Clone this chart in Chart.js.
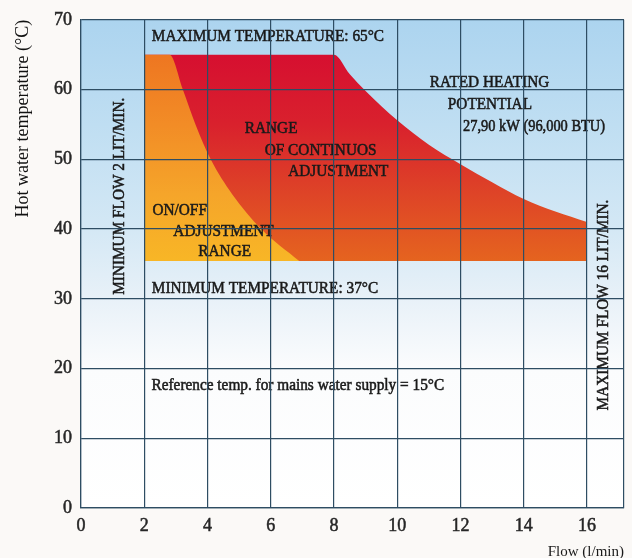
<!DOCTYPE html>
<html>
<head>
<meta charset="utf-8">
<script src="https://cdn.jsdelivr.net/npm/chart.js@4.4.1/dist/chart.umd.min.js"></script>
<style>
html,body{margin:0;padding:0;background:#fbf9f7;}
#wrap{width:632px;height:558px;}
</style>
</head>
<body>
<div id="wrap"><canvas id="c" width="632" height="558"></canvas></div>
<script>
// ---- data ----
const xTickValues = [0, 2, 4, 6, 8, 10, 12, 14, 16];
const xAxisMax = 17.17;
const yAxisMin = 0;
const yAxisMax = 70;
const yStep = 10;
const minRangeTemp = 35.4;               // bottom of the coloured ranges
const onOffFlow = [2, 2.8, 3.22, 3.62, 4.1, 4.78, 5.7, 6.9];
const onOffTemp = [65, 65, 60, 55, 50, 45, 40, 35.4];
const powerFlow = [2, 8, 8.5, 9, 10, 11, 12, 13, 14, 15, 16];
const powerTemp = [65, 65, 62.2, 59.8, 55.6, 52.1, 49.3, 46.7, 44.3, 42.5, 41.0];

// ---- text annotations (data coordinates) ----
const FONT = '"Liberation Serif", "Times New Roman", serif';
const notes = [
  {t: 'MAXIMUM TEMPERATURE: 65°C', x: 2.24, y: 67.6},
  {t: 'RATED HEATING', x: 11.03, y: 61.0},
  {t: 'POTENTIAL', x: 11.6, y: 57.9},
  {t: '27,90 kW (96,000 BTU)', x: 12.08, y: 54.7, s: 16},
  {t: 'RANGE', x: 5.18, y: 54.4},
  {t: 'OF CONTINUOS', x: 5.81, y: 51.2},
  {t: 'ADJUSTMENT', x: 6.55, y: 48.2},
  {t: 'ON/OFF', x: 2.26, y: 42.7},
  {t: 'ADJUSTMENT', x: 2.92, y: 39.6},
  {t: 'RANGE', x: 3.71, y: 36.8},
  {t: 'MINIMUM TEMPERATURE: 37°C', x: 2.24, y: 31.5},
  {t: 'Reference temp. for mains water supply = 15°C', x: 2.23, y: 17.6},
  {t: 'MINIMUM FLOW 2 LIT/MIN.', x: 1.22, y: 44.7, v: true},
  {t: 'MAXIMUM FLOW 16 LIT/MIN.', x: 16.52, y: 29.1, v: true}
];

const GRID = '#2e4d63';
const TEXT = '#1a1a1a';
const onOffStops = [[65, '#ee7621'], [55, '#f28c26'], [45, '#f5a52a'], [35.4, '#f8b626']];
const contStops = [[65, '#d60f30'], [55, '#d9212d'], [45, '#de4427'], [35.4, '#e5641f']];
const bgStops = [[70, '#acd4ef'], [55, '#bfdef2'], [40, '#d4e8f5'], [30, '#e8f1f8'], [20, '#fbfcfd'], [0, '#ffffff']];

function vGrad(chart, stops) {
  const {ctx, chartArea, scales} = chart;
  if (!chartArea) return stops[0][1];
  const y = scales.y;
  const y0 = y.getPixelForValue(stops[0][0]);
  const y1 = y.getPixelForValue(stops[stops.length - 1][0]);
  const g = ctx.createLinearGradient(0, y0, 0, y1);
  stops.forEach(([v, c]) => g.addColorStop(Math.min(1, Math.max(0, (y.getPixelForValue(v) - y0) / (y1 - y0))), c));
  return g;
}

const bgPlugin = {
  id: 'bgPlugin',
  beforeDatasetsDraw(chart) {
    const {ctx, chartArea: a} = chart;
    ctx.save();
    ctx.fillStyle = vGrad(chart, bgStops);
    ctx.fillRect(a.left, a.top, a.right - a.left, a.bottom - a.top);
    ctx.restore();
  }
};

const textPlugin = {
  id: 'textPlugin',
  afterDatasetsDraw(chart) {
    const {ctx, scales: {x, y}} = chart;
    notes.forEach(n => {
      ctx.save();
      ctx.translate(x.getPixelForValue(n.x), y.getPixelForValue(n.y));
      if (n.v) ctx.rotate(-Math.PI / 2);
      ctx.scale(0.9, 1);
      ctx.font = (n.s || 17) + 'px ' + FONT;
      ctx.fillStyle = TEXT;
      ctx.strokeStyle = TEXT;
      ctx.lineWidth = 0.55;
      ctx.textAlign = n.v ? 'center' : 'left';
      ctx.textBaseline = 'middle';
      ctx.fillText(n.t, 0, 0);
      ctx.strokeText(n.t, 0, 0);
      ctx.restore();
    });
  }
};

new Chart(document.getElementById('c'), {
  type: 'line',
  data: {
    datasets: [
      {
        label: 'ON/OFF adjustment range',
        data: onOffFlow.map((v, i) => ({x: v, y: onOffTemp[i]})),
        fill: {value: minRangeTemp},
        backgroundColor: c => vGrad(c.chart, onOffStops),
        borderWidth: 0,
        pointRadius: 0,
        cubicInterpolationMode: 'monotone'
      },
      {
        label: 'Range of continuous adjustment',
        data: powerFlow.map((v, i) => ({x: v, y: powerTemp[i]})),
        fill: {value: minRangeTemp},
        backgroundColor: c => vGrad(c.chart, contStops),
        borderWidth: 0,
        pointRadius: 0,
        cubicInterpolationMode: 'monotone'
      }
    ]
  },
  options: {
    responsive: false,
    animation: false,
    layout: {padding: {top: 18, right: 8, left: 0, bottom: 0}},
    plugins: {legend: {display: false}, tooltip: {enabled: false}},
    scales: {
      x: {
        type: 'linear',
        min: 0,
        max: xAxisMax,
        afterBuildTicks: s => { s.ticks = xTickValues.concat([xAxisMax]).map(v => ({value: v})); },
        afterFit: s => { s.height = 50; },
        ticks: {
          autoSkip: false,
          maxRotation: 0,
          callback: v => xTickValues.includes(v) ? String(v) : '',
          color: '#262626',
          textStrokeColor: '#262626',
          textStrokeWidth: 0.5,
          font: {family: FONT, size: 18},
          padding: 7,
          z: 2
        },
        grid: {color: GRID, lineWidth: 1.2, drawTicks: false, z: 1},
        border: {color: GRID, width: 1.2, z: 1},
        title: {display: true, text: 'Flow (l/min)', align: 'end', color: '#1a1a1a',
                font: {family: FONT, size: 15, lineHeight: 0.8}, padding: 0}
      },
      y: {
        min: yAxisMin,
        max: yAxisMax,
        afterFit: s => { s.width = 81; },
        ticks: {stepSize: yStep, color: '#262626', textStrokeColor: '#262626', textStrokeWidth: 0.5,
                font: {family: FONT, size: 18}, padding: 9, z: 2},
        grid: {color: GRID, lineWidth: 1.2, drawTicks: false, z: 1},
        border: {color: GRID, width: 1.2, z: 1},
        title: {display: true, text: 'Hot water temperature (°C)', align: 'end', color: '#111',
                font: {family: FONT, size: 18}, padding: {top: 12, bottom: 0}}
      }
    }
  },
  plugins: [bgPlugin, textPlugin]
});
</script>
</body>
</html>
